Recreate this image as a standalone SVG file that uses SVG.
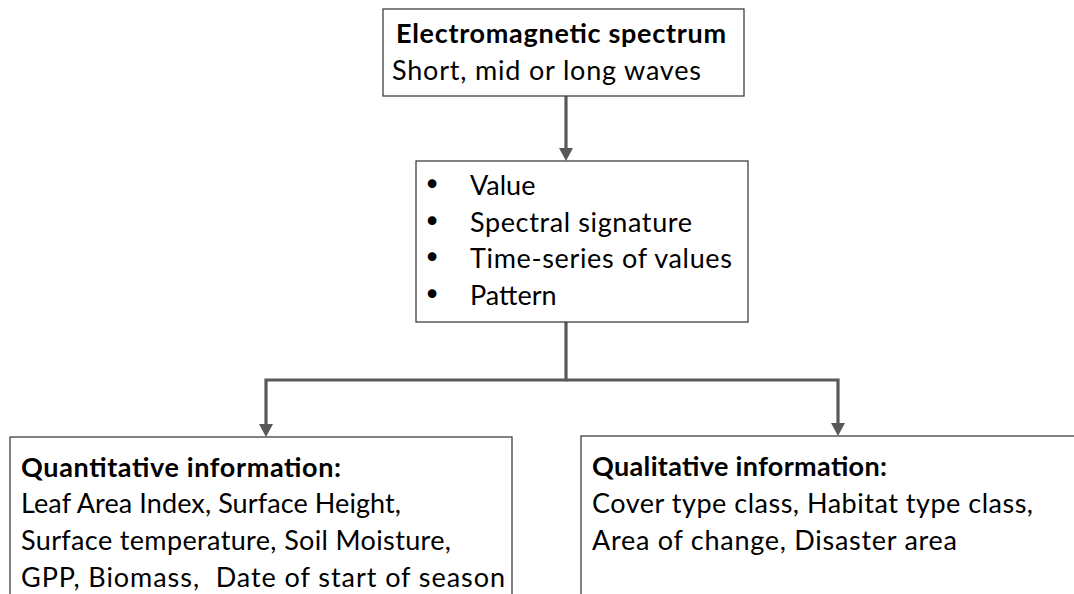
<svg xmlns="http://www.w3.org/2000/svg" width="1074" height="594" viewBox="0 0 1074 594">
<style>
.box{fill:#fff;stroke:#404040;stroke-width:1.3}
.t{font-family:Lato,"Open Sans","Liberation Sans",sans-serif;font-size:27px;fill:#000}
.b{font-weight:bold}
.bul{font-family:"DejaVu Sans",sans-serif;font-size:30px;fill:#000}
.conn{fill:none;stroke:#595959;stroke-width:3.2}
</style>
<defs>
<marker id="ah" viewBox="0 0 13 14" refX="3" refY="7" markerWidth="13" markerHeight="14" markerUnits="userSpaceOnUse" orient="auto">
<path d="M0,0 L13,7 L0,14 Z" fill="#595959"/>
</marker>
</defs>
<rect width="1074" height="594" fill="#fff"/>
<g id="connectors">
<path class="conn" d="M566,96 V151" marker-end="url(#ah)"/>
<path class="conn" d="M566,322 V380 H266 V427" marker-end="url(#ah)"/>
<path class="conn" d="M566,380 H838 V426" marker-end="url(#ah)"/>
</g>
<g id="spectrum">
<rect class="box" x="383" y="9" width="361" height="87"/>
<text class="t b" x="396" y="43" textLength="330">Electromagnetic spectrum</text>
<text class="t" x="392" y="80" textLength="309">Short, mid or long waves</text>
</g>
<g id="features">
<rect class="box" x="416" y="161" width="332" height="161"/>
<text class="bul" x="432" y="195" text-anchor="middle">•</text>
<text class="t" x="470" y="195">Value</text>
<text class="bul" x="432" y="232" text-anchor="middle">•</text>
<text class="t" x="470" y="232" textLength="222">Spectral signature</text>
<text class="bul" x="432" y="268" text-anchor="middle">•</text>
<text class="t" x="470" y="268" textLength="262">Time-series of values</text>
<text class="bul" x="432" y="305" text-anchor="middle">•</text>
<text class="t" x="470" y="305">Pattern</text>
</g>
<g id="quantitative">
<rect class="box" x="10" y="437" width="502" height="180"/>
<text class="t b" x="21" y="477" textLength="320">Quantitative information:</text>
<text class="t" x="21" y="513" textLength="380">Leaf Area Index, Surface Height,</text>
<text class="t" x="21" y="550" textLength="430">Surface temperature, Soil Moisture,</text>
<text class="t" x="21" y="587" textLength="484" xml:space="preserve">GPP, Biomass,  Date of start of season</text>
</g>
<g id="qualitative">
<rect class="box" x="581" y="436" width="520" height="180"/>
<text class="t b" x="592" y="476" textLength="295">Qualitative information:</text>
<text class="t" x="592" y="513" textLength="441">Cover type class, Habitat type class,</text>
<text class="t" x="592" y="550" textLength="365">Area of change, Disaster area</text>
</g>
</svg>
